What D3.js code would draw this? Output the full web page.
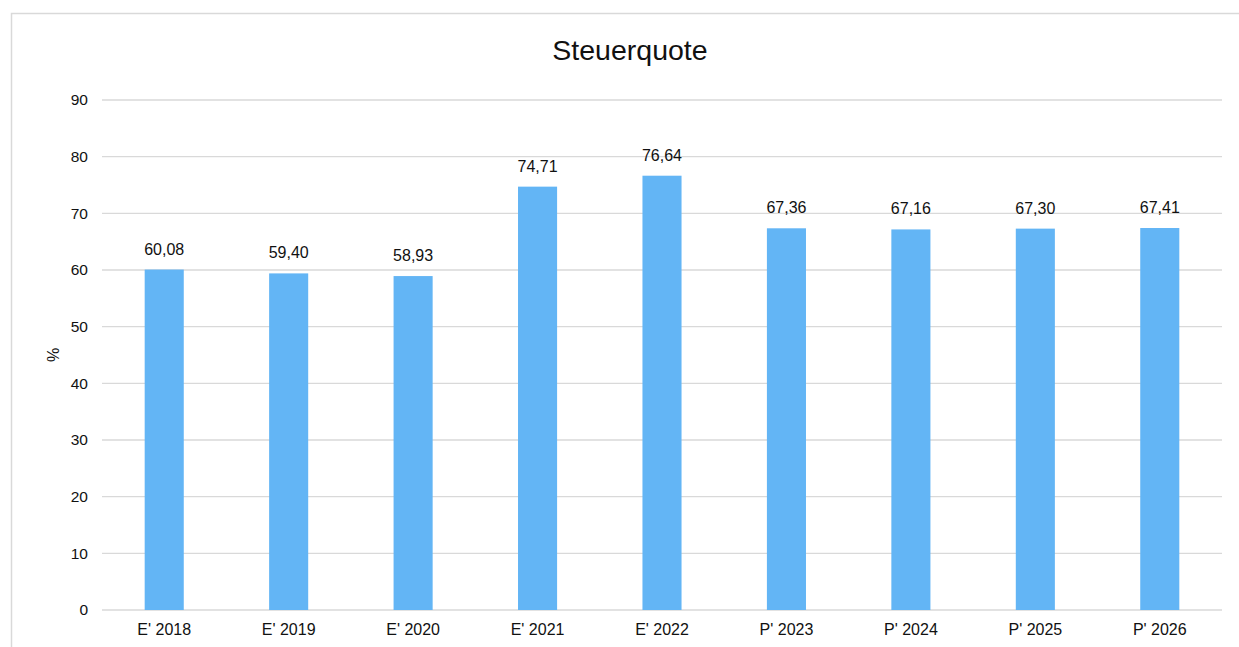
<!DOCTYPE html>
<html>
<head>
<meta charset="utf-8">
<script src="https://cdn.jsdelivr.net/npm/d3@7"></script>
<style>
  body { margin: 0; background: #fff; }
  text { font-family: "Liberation Sans", Arial, sans-serif; fill: #111; }
</style>
</head>
<body>
<svg id="chart" width="1239" height="647"></svg>
<script>
// data
var categories = ["E' 2018", "E' 2019", "E' 2020", "E' 2021", "E' 2022", "P' 2023", "P' 2024", "P' 2025", "P' 2026"];
var values = [60.08, 59.40, 58.93, 74.71, 76.64, 67.36, 67.16, 67.30, 67.41];
var yTicks = [0, 10, 20, 30, 40, 50, 60, 70, 80, 90];

var svg = d3.select("#chart");
var margin = {left: 102, right: 17, top: 100, bottom: 37};
var width = 1239, height = 647;

// outer frame
svg.append("rect")
  .attr("x", 11.5).attr("y", 13.5)
  .attr("width", 1300).attr("height", 700)
  .attr("fill", "none").attr("stroke", "#d9d9d9").attr("stroke-width", 1.5);

var x = d3.scaleBand()
  .domain(categories)
  .range([margin.left, width - margin.right])
  .paddingInner(0.686)
  .paddingOuter(0.343);

var y = d3.scaleLinear()
  .domain([0, 90])
  .range([height - margin.bottom, margin.top]);

// gridlines
svg.append("g").selectAll("line")
  .data(yTicks)
  .join("line")
  .attr("x1", margin.left).attr("x2", width - margin.right)
  .attr("y1", function(d) { return y(d); })
  .attr("y2", function(d) { return y(d); })
  .attr("stroke", "#d9d9d9").attr("stroke-width", 1.3);

// y axis labels
var yAxis = svg.append("g")
  .attr("transform", "translate(" + (margin.left - 14) + ",0)")
  .call(d3.axisLeft(y).tickValues(yTicks).tickSize(0).tickPadding(0));
yAxis.select(".domain").remove();
yAxis.selectAll("text").style("font-size", "15.5px").attr("fill", "#111");

// x axis labels
var xAxis = svg.append("g")
  .attr("transform", "translate(0," + (height - margin.bottom) + ")")
  .call(d3.axisBottom(x).tickSize(0).tickPadding(14));
xAxis.select(".domain").remove();
xAxis.selectAll("text").style("font-size", "16px").attr("fill", "#111");

// bars
svg.append("g").selectAll("rect")
  .data(values)
  .join("rect")
  .attr("x", function(d, i) { return x(categories[i]); })
  .attr("width", x.bandwidth())
  .attr("y", function(d) { return y(d); })
  .attr("height", function(d) { return y(0) - y(d); })
  .attr("fill", "#63b5f5");

// value labels
svg.append("g").selectAll("text")
  .data(values)
  .join("text")
  .attr("x", function(d, i) { return x(categories[i]) + x.bandwidth() / 2; })
  .attr("y", function(d) { return y(d) - 15; })
  .attr("text-anchor", "middle")
  .style("font-size", "16px")
  .text(function(d) { return d.toFixed(2).replace(".", ","); });

// title
svg.append("text")
  .attr("x", 630).attr("y", 60)
  .attr("text-anchor", "middle")
  .style("font-size", "28.5px")
  .text("Steuerquote");

// y axis title
svg.append("text")
  .attr("transform", "translate(59,355) rotate(-90)")
  .attr("text-anchor", "middle")
  .style("font-size", "16px")
  .text("%");
</script>
</body>
</html>
